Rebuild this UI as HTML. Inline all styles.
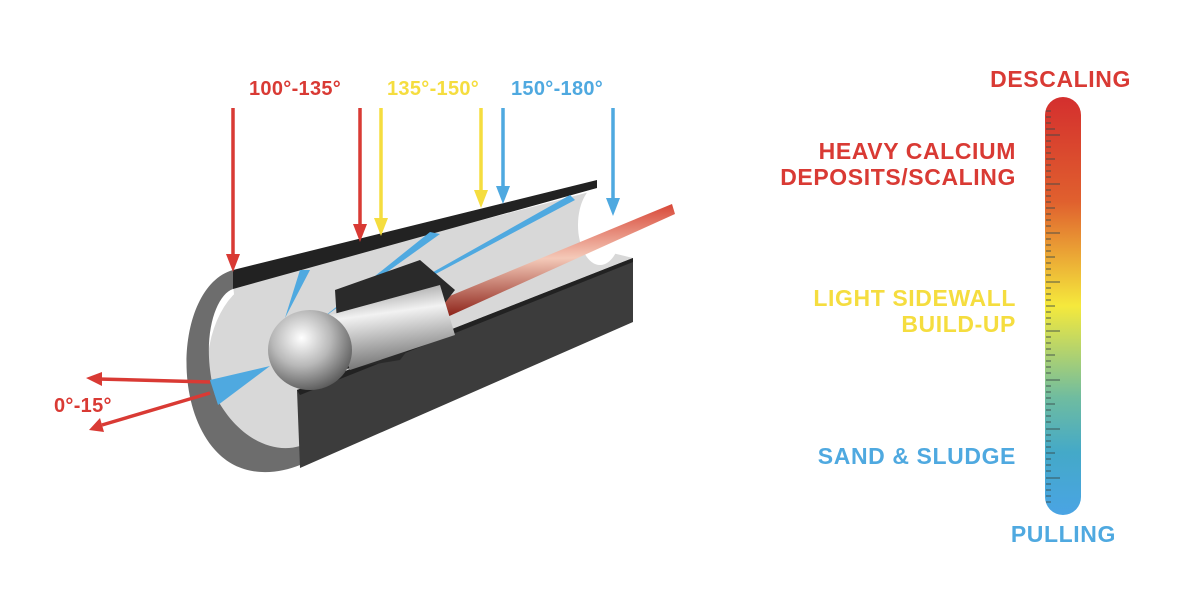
<!DOCTYPE html>
<html><head><meta charset="utf-8"><style>
html,body{margin:0;padding:0;background:#fff;}
svg{display:block}
text{font-family:"Liberation Sans",sans-serif;font-weight:bold;}
</style></head><body>
<svg width="1200" height="590" viewBox="0 0 1200 590" xmlns="http://www.w3.org/2000/svg">
<defs>
<linearGradient id="bar" x1="0" y1="0" x2="0" y2="1">
<stop offset="0" stop-color="#d42f2e"/><stop offset="0.25" stop-color="#e0602e"/>
<stop offset="0.5" stop-color="#f5e93c"/><stop offset="0.72" stop-color="#6fbca0"/>
<stop offset="0.85" stop-color="#44a9c8"/><stop offset="1" stop-color="#4aa4e4"/></linearGradient>
<linearGradient id="hose" x1="0" y1="0" x2="0.05" y2="1">
<stop offset="0" stop-color="#d53a2a"/><stop offset="0.5" stop-color="#f4c9b8"/><stop offset="1" stop-color="#8a1e14"/></linearGradient>
<radialGradient id="ball" cx="0.4" cy="0.35" r="0.7">
<stop offset="0" stop-color="#ffffff"/><stop offset="0.5" stop-color="#b8b8b8"/><stop offset="1" stop-color="#555"/></radialGradient>
<linearGradient id="body" x1="0" y1="0" x2="0.2" y2="1">
<stop offset="0" stop-color="#888"/><stop offset="0.4" stop-color="#f2f2f2"/><stop offset="1" stop-color="#777"/></linearGradient>
</defs>

<!-- interior -->
<ellipse cx="265" cy="372" rx="58" ry="92" fill="#d8d8d8"/>
<polygon points="233,285 597,190 600,250 633,258 300,400 300,455 250,440" fill="#d8d8d8"/>
<ellipse cx="600" cy="225" rx="22" ry="40" fill="#fff"/>
<!-- front ring -->
<path d="M233,270 C180,285 170,400 215,450 C240,478 275,475 300,465 L300,446 C270,455 235,435 215,395 C200,340 215,295 233,289 Z" fill="#6d6d6d"/>
<!-- lower shell -->
<polygon points="297,390 633,258 633,322 300,468" fill="#3c3c3c"/>
<polygon points="297,390 633,258 633,262 300,395" fill="#222"/>
<!-- top strip -->
<polygon points="233,270 597,180 597,188 233,289" fill="#222"/>
<!-- sprays -->
<polygon points="270,366 210,380 218,405" fill="#4fa9e0"/>
<polygon points="285,318 300,270 310,270" fill="#4fa9e0"/>
<polygon points="320,320 430,232 440,234" fill="#4fa9e0"/>
<polygon points="330,330 570,195 575,200" fill="#4fa9e0"/>
<!-- hose -->
<polygon points="440,300 672,204 675,214 445,318" fill="url(#hose)"/>
<!-- nozzle body -->
<polygon points="335,290 420,260 455,290 400,360 340,370" fill="#2a2a2a"/>
<polygon points="330,315 440,285 455,335 350,370" fill="url(#body)"/>
<ellipse cx="310" cy="350" rx="42" ry="40" fill="url(#ball)"/>
<!-- arrows -->
<g stroke-width="3.5" fill="none">
<line x1="233" y1="108" x2="233" y2="258" stroke="#d93a34"/>
<line x1="360" y1="108" x2="360" y2="228" stroke="#d93a34"/>
<line x1="381" y1="108" x2="381" y2="222" stroke="#f5dd3f"/>
<line x1="481" y1="108" x2="481" y2="195" stroke="#f5dd3f"/>
<line x1="503" y1="108" x2="503" y2="190" stroke="#4fa9e0"/>
<line x1="613" y1="108" x2="613" y2="202" stroke="#4fa9e0"/>
<line x1="210" y1="382" x2="98" y2="379" stroke="#d93a34"/>
<line x1="210" y1="393" x2="102" y2="425" stroke="#d93a34"/>
</g>
<g>
<polygon points="226,254 240,254 233,272" fill="#d93a34"/>
<polygon points="353,224 367,224 360,242" fill="#d93a34"/>
<polygon points="374,218 388,218 381,236" fill="#f5dd3f"/>
<polygon points="474,190 488,190 481,208" fill="#f5dd3f"/>
<polygon points="496,186 510,186 503,204" fill="#4fa9e0"/>
<polygon points="606,198 620,198 613,216" fill="#4fa9e0"/>
<polygon points="102,372 102,386 86,378" fill="#d93a34"/>
<polygon points="100,418 104,432 89,430" fill="#d93a34"/>
</g>
<g font-size="20" letter-spacing="0.3">
<text x="249" y="95" fill="#d93a34">100°-135°</text>
<text x="387" y="95" fill="#f5dd3f">135°-150°</text>
<text x="511" y="95" fill="#4fa9e0">150°-180°</text>
<text x="54" y="412" fill="#d93a34">0°-15°</text>
</g>

<!-- bar -->
<rect x="1045" y="97" width="36" height="418" rx="18" fill="url(#bar)"/>
<g stroke="#3a4a4a" stroke-width="1.2" opacity="0.7">
<path d="M1046,135h14M1046,184h14M1046,233h14M1046,282h14M1046,331h14M1046,380h14M1046,429h14M1046,478h14"/>
<path d="M1046,111h5M1046,117h5M1046,123h5M1046,129h9M1046,141h5M1046,147h5M1046,153h5M1046,159h9M1046,165h5M1046,171h5M1046,177h5M1046,190h5M1046,196h5M1046,202h5M1046,208h9M1046,214h5M1046,220h5M1046,226h5M1046,239h5M1046,245h5M1046,251h5M1046,257h9M1046,263h5M1046,269h5M1046,275h5M1046,288h5M1046,294h5M1046,300h5M1046,306h9M1046,312h5M1046,318h5M1046,324h5M1046,337h5M1046,343h5M1046,349h5M1046,355h9M1046,361h5M1046,367h5M1046,373h5M1046,386h5M1046,392h5M1046,398h5M1046,404h9M1046,410h5M1046,416h5M1046,422h5M1046,435h5M1046,441h5M1046,447h5M1046,453h9M1046,459h5M1046,465h5M1046,471h5M1046,484h5M1046,490h5M1046,496h5M1046,502h5"/>
</g>
<g font-size="23" text-anchor="end" letter-spacing="0.6">
<text x="1131" y="87" fill="#d93a34">DESCALING</text>
<text x="1016" y="159" fill="#d93a34">HEAVY CALCIUM</text>
<text x="1016" y="185" fill="#d93a34">DEPOSITS/SCALING</text>
<text x="1016" y="306" fill="#f5dd3f">LIGHT SIDEWALL</text>
<text x="1016" y="332" fill="#f5dd3f">BUILD-UP</text>
<text x="1016" y="464" fill="#4fa9e0">SAND &amp; SLUDGE</text>
<text x="1116" y="542" fill="#4fa9e0">PULLING</text>
</g>
</svg>
</body></html>
